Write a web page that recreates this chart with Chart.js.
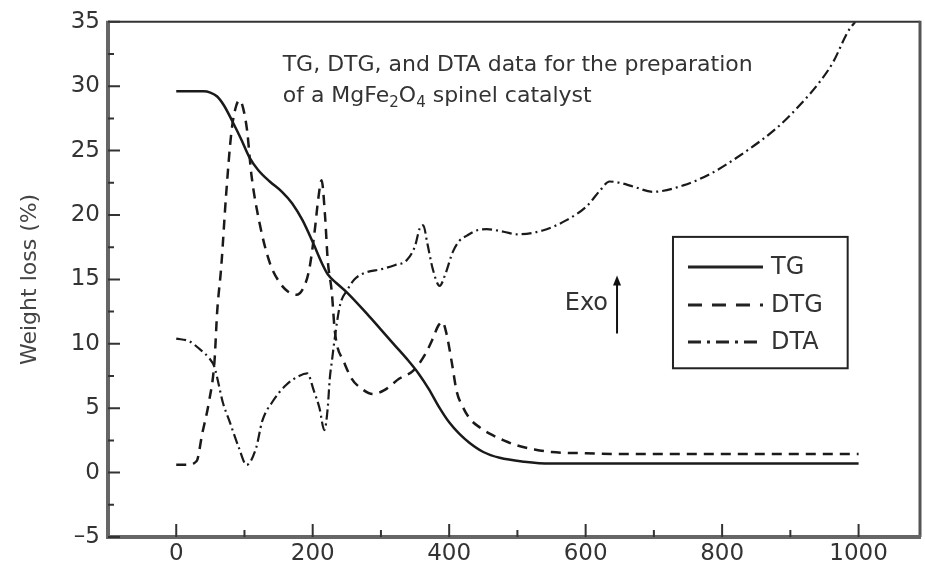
<!DOCTYPE html>
<html>
<head>
<meta charset="utf-8">
<script src="https://cdn.jsdelivr.net/npm/chart.js@4.4.1/dist/chart.umd.min.js"></script>
<style>
  html, body { margin: 0; padding: 0; background: #fff; }
  #wrap { width: 925px; height: 564px; position: relative; }
</style>
</head>
<body>
<div id="wrap"><canvas id="tga"></canvas></div>
<script>
// --- axis ticks ---
const xTicks = [0, 200, 400, 600, 800, 1000];
const xMinor = [100, 300, 500, 700, 900];
const yTicks = [-5, 0, 5, 10, 15, 20, 25, 30, 35];
const yMinor = [-2.5, 2.5, 7.5, 12.5, 17.5, 22.5, 27.5, 32.5];

// --- TG (weight loss) ---
const tgTemp = [0, 20, 40, 50, 60, 70, 82, 95, 107, 120, 137, 155, 170, 185, 200, 214, 222, 235, 250, 280, 300, 320, 340, 355, 370, 385, 400, 415, 430, 450, 474, 510, 548, 600, 700, 800, 900, 1000];
const tgVals = [29.6, 29.6, 29.6, 29.5, 29.2, 28.5, 27.3, 25.9, 24.5, 23.5, 22.6, 21.8, 20.9, 19.6, 17.9, 16.2, 15.4, 14.7, 14.0, 12.3, 11.1, 9.9, 8.7, 7.7, 6.5, 5.1, 3.9, 3.0, 2.3, 1.6, 1.15, 0.85, 0.7, 0.7, 0.7, 0.7, 0.7, 0.7];

// --- DTG ---
const dtgTemp = [0, 15, 30, 38, 48, 56, 60, 66, 73, 81, 88, 93, 98, 104, 110, 122, 137, 151, 165, 176, 187, 195, 203, 208, 213, 218, 222, 228, 232, 236, 244, 257, 272, 288, 305, 327, 347, 365, 376, 384, 390, 396, 404, 411, 420, 430, 445, 460, 480, 500, 525, 550, 600, 650, 700, 800, 900, 1000];
const dtgVals = [0.6, 0.6, 0.9, 3.0, 5.5, 8.6, 12.5, 16.0, 21.5, 26.5, 28.5, 28.9, 28.3, 26.5, 23.2, 19.4, 16.3, 14.8, 14.0, 13.8, 14.4, 15.8, 18.8, 21.2, 22.7, 20.0, 16.5, 14.0, 11.2, 9.8, 8.8, 7.3, 6.5, 6.1, 6.4, 7.3, 7.9, 9.2, 10.4, 11.4, 11.7, 10.8, 8.5, 6.3, 5.1, 4.2, 3.5, 3.0, 2.5, 2.1, 1.8, 1.6, 1.5, 1.45, 1.45, 1.45, 1.45, 1.45];

// --- DTA ---
const dtaTemp = [0, 19, 34, 48, 56, 62, 68, 78, 92, 103, 117, 126, 141, 161, 180, 192, 202, 210, 217, 222, 225, 228, 233, 240, 251, 261, 276, 301, 320, 338, 350, 357, 362, 368, 376, 386, 395, 405, 415, 426, 440, 455, 480, 500, 537, 572, 602, 621, 635, 650, 670, 699, 743, 783, 831, 881, 915, 944, 963, 984, 995];
const dtaVals = [10.4, 10.2, 9.6, 8.9, 8.2, 6.9, 5.5, 4.0, 1.9, 0.6, 1.9, 4.0, 5.5, 6.8, 7.5, 7.7, 6.3, 5.0, 3.3, 5.0, 7.3, 8.6, 10.7, 13.0, 14.2, 15.0, 15.5, 15.8, 16.1, 16.5, 17.6, 19.0, 19.2, 17.8, 15.8, 14.5, 15.5, 17.1, 18.0, 18.4, 18.8, 18.9, 18.7, 18.5, 18.8, 19.6, 20.7, 21.9, 22.6, 22.5, 22.2, 21.8, 22.3, 23.2, 24.8, 26.8, 28.6, 30.4, 31.9, 34.2, 35.0];

const zip = (xs, ys) => xs.map((x, i) => ({ x, y: ys[i] }));
const FONT = 'DejaVu Sans';
const TXT = '#333';

const dashTG = [];
const dashDTG = [10, 7];
const dashDTA = [10, 4, 2, 4];

// rahmen, ticks, titel, exo-pfeil, legende
const decor = {
    id: 'decor',
    afterDatasetsDraw(chart) {
        const { ctx, chartArea: a, scales: { x, y } } = chart;
        ctx.save();

        // frame
        ctx.lineCap = 'butt';
        ctx.strokeStyle = '#333'; ctx.lineWidth = 2;
        ctx.beginPath(); ctx.moveTo(a.left, a.top); ctx.lineTo(a.right, a.top); ctx.stroke();
        ctx.strokeStyle = '#555'; ctx.lineWidth = 3;
        ctx.beginPath(); ctx.moveTo(a.right, a.top - 1); ctx.lineTo(a.right, a.bottom); ctx.stroke();
        ctx.strokeStyle = '#666'; ctx.lineWidth = 4;
        ctx.beginPath(); ctx.moveTo(a.left, a.top - 1); ctx.lineTo(a.left, a.bottom + 2);
        ctx.moveTo(a.left - 2, a.bottom); ctx.lineTo(a.right + 1, a.bottom); ctx.stroke();

        // inward ticks
        ctx.strokeStyle = '#333'; ctx.lineWidth = 2;
        ctx.beginPath();
        yTicks.forEach(v => { const p = y.getPixelForValue(v); ctx.moveTo(a.left, p); ctx.lineTo(a.left + 12, p); });
        yMinor.forEach(v => { const p = y.getPixelForValue(v); ctx.moveTo(a.left, p); ctx.lineTo(a.left + 6, p); });
        xTicks.forEach(v => { const p = x.getPixelForValue(v); ctx.moveTo(p, a.bottom); ctx.lineTo(p, a.bottom - 13); });
        xMinor.forEach(v => { const p = x.getPixelForValue(v); ctx.moveTo(p, a.bottom); ctx.lineTo(p, a.bottom - 7); });
        ctx.stroke();

        // annotation text
        ctx.fillStyle = TXT;
        ctx.textBaseline = 'alphabetic';
        ctx.textAlign = 'left';
        const tx = x.getPixelForValue(156);
        ctx.font = `22px "${FONT}"`;
        ctx.fillText('TG, DTG, and DTA data for the preparation', tx, y.getPixelForValue(31.2));
        let cx = tx;
        const by = y.getPixelForValue(28.8);
        [['of a MgFe', false], ['2', true], ['O', false], ['4', true], [' spinel catalyst', false]].forEach(([s, sub]) => {
            ctx.font = sub ? `15px "${FONT}"` : `22px "${FONT}"`;
            ctx.fillText(s, cx, sub ? by + 5 : by);
            cx += ctx.measureText(s).width;
        });

        // Exo arrow
        const ax = x.getPixelForValue(646);
        const aTop = y.getPixelForValue(15.3);
        const aBot = y.getPixelForValue(10.8);
        ctx.strokeStyle = '#111'; ctx.lineWidth = 2;
        ctx.beginPath(); ctx.moveTo(ax, aBot); ctx.lineTo(ax, aTop + 8); ctx.stroke();
        ctx.fillStyle = '#111';
        ctx.beginPath(); ctx.moveTo(ax, aTop); ctx.lineTo(ax - 4, aTop + 10); ctx.lineTo(ax + 4, aTop + 10); ctx.closePath(); ctx.fill();
        ctx.fillStyle = TXT;
        ctx.font = `24px "${FONT}"`;
        ctx.textAlign = 'right'; ctx.textBaseline = 'middle';
        ctx.fillText('Exo', ax - 9, y.getPixelForValue(13.1));

        // legend box
        const lx0 = x.getPixelForValue(728), lx1 = x.getPixelForValue(984);
        const ly0 = y.getPixelForValue(18.3), ly1 = y.getPixelForValue(8.1);
        ctx.strokeStyle = '#222'; ctx.lineWidth = 2;
        ctx.strokeRect(lx0, ly0, lx1 - lx0, ly1 - ly0);
        const rows = [
            { label: 'TG', dash: dashTG, width: 3 },
            { label: 'DTG', dash: [14, 10], width: 3 },
            { label: 'DTA', dash: [13, 6, 3, 6], width: 3 }
        ];
        const rowY = [30, 68, 105].map(d => ly0 + d);
        ctx.font = `24px "${FONT}"`;
        ctx.textAlign = 'left'; ctx.textBaseline = 'middle';
        rows.forEach((r, i) => {
            ctx.strokeStyle = '#222'; ctx.lineWidth = r.width;
            ctx.setLineDash(r.dash);
            ctx.beginPath(); ctx.moveTo(lx0 + 15, rowY[i]); ctx.lineTo(lx0 + 90, rowY[i]); ctx.stroke();
            ctx.setLineDash([]);
            ctx.fillStyle = TXT;
            ctx.fillText(r.label, lx0 + 98, rowY[i] + 1);
        });

        ctx.restore();
    }
};

const lineDs = (label, xs, ys, dash, width) => ({
    label,
    data: zip(xs, ys),
    borderColor: '#1a1a1a',
    borderWidth: width,
    borderDash: dash,
    pointRadius: 0,
    fill: false,
    cubicInterpolationMode: 'monotone'
});

new Chart(document.getElementById('tga'), {
    type: 'line',
    data: {
        datasets: [
            lineDs('TG', tgTemp, tgVals, dashTG, 2.5),
            lineDs('DTG', dtgTemp, dtgVals, dashDTG, 2.5),
            lineDs('DTA', dtaTemp, dtaVals, dashDTA, 2.2)
        ]
    },
    options: {
        responsive: true,
        maintainAspectRatio: false,
        animation: false,
        layout: { padding: { top: 17, right: 5, left: 0, bottom: 0 } },
        plugins: { legend: { display: false }, tooltip: { enabled: false } },
        scales: {
            x: {
                type: 'linear',
                min: -100,
                max: 1090,
                afterBuildTicks: s => { s.ticks = xTicks.map(v => ({ value: v })); },
                afterFit: s => { s.height = 27; },
                grid: { display: false, drawTicks: false },
                border: { display: false },
                ticks: {
                    padding: 3, color: TXT, font: { family: FONT, size: 23 }, maxRotation: 0,
                    callback: v => String(v)
                }
            },
            y: {
                type: 'linear',
                min: -5,
                max: 35,
                afterBuildTicks: s => { s.ticks = yTicks.map(v => ({ value: v })); },
                afterFit: s => { s.width = 108; },
                grid: { display: false, drawTicks: false },
                border: { display: false },
                ticks: {
                    padding: 8, color: TXT, font: { family: FONT, size: 23 },
                    callback: v => (v < 0 ? '\u2013' + Math.abs(v) : String(v))
                },
                title: {
                    display: true, text: 'Weight loss (%)', color: '#444',
                    font: { family: FONT, size: 22 }, padding: { top: 17, bottom: 0 }
                }
            }
        }
    },
    plugins: [decor]
});
</script>
</body>
</html>
